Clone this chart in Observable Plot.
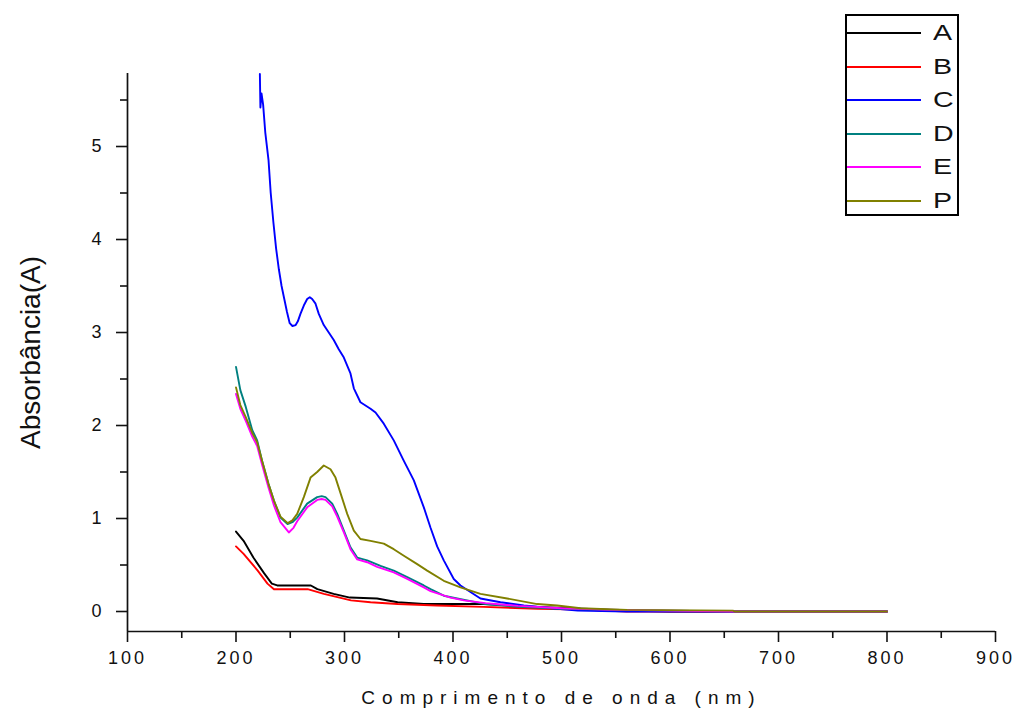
<!DOCTYPE html>
<html>
<head>
<meta charset="utf-8">
<script src="https://cdn.jsdelivr.net/npm/d3@7"></script>
<script src="https://cdn.jsdelivr.net/npm/@observablehq/plot@0.6"></script>
<style>
  html, body { margin: 0; padding: 0; background: #fff; }
  #wrap { position: relative; width: 1017px; height: 715px; }
  #legend { position: absolute; left: 845px; top: 14px; width: 110px; height: 198px; border: 2px solid #000; background: #fff; font-family: "Liberation Sans", Arial, sans-serif; }
  .row { position: absolute; left: 0; height: 30px; width: 110px; }
  .swatch { position: absolute; left: 0; top: 14px; width: 74px; height: 2px; }
  .lab { position: absolute; left: 86px; top: 2px; font-size: 22px; line-height: 26px; color: #111; transform: scaleX(1.3); transform-origin: left center; }
</style>
</head>
<body>
<div id="wrap"></div>
<script>
// ---- data ----
const seriesNames = ["A", "B", "C", "D", "E", "P"];
const seriesColors = ["#000000", "#ff0000", "#0000ff", "#008080", "#ff00ff", "#808000"];

const aWavelength = [200, 207, 216, 226, 233, 238, 250, 269, 275, 290, 305, 330, 349, 373, 428, 478, 520, 560, 600, 700, 800];
const aAbsorbance = [0.86, 0.76, 0.58, 0.41, 0.30, 0.28, 0.28, 0.28, 0.24, 0.19, 0.15, 0.14, 0.10, 0.08, 0.08, 0.05, 0.03, 0.01, 0.0, 0.0, 0.0];

const bWavelength = [200, 207, 220, 229, 235, 250, 266, 281, 306, 324, 349, 385, 428, 478, 520, 560, 600, 700, 800];
const bAbsorbance = [0.70, 0.62, 0.44, 0.30, 0.24, 0.24, 0.24, 0.19, 0.12, 0.10, 0.08, 0.065, 0.05, 0.03, 0.02, 0.0, 0.0, 0.0, 0.0];

const cWavelength = [222, 222.5, 223.5, 225, 227, 230, 232, 234.5, 237, 239.5, 242, 244.5, 247, 249.5, 252, 255, 257, 259.4, 262.5, 265.6, 268, 270.2, 273.3, 276.3, 280.9, 285.5, 290.1, 294.7, 299.4, 305.5, 308.6, 314.7, 324, 328.6, 336.2, 345.4, 354.7, 363.9, 373.1, 379.3, 385.4, 391.5, 400.7, 406.9, 416.1, 425.3, 443.8, 465.3, 496, 515, 560, 620, 700, 800];
const cAbsorbance = [5.78, 5.42, 5.57, 5.45, 5.15, 4.85, 4.50, 4.18, 3.90, 3.68, 3.50, 3.36, 3.22, 3.10, 3.07, 3.08, 3.12, 3.20, 3.29, 3.36, 3.38, 3.36, 3.31, 3.20, 3.08, 3.00, 2.92, 2.82, 2.73, 2.56, 2.40, 2.25, 2.18, 2.14, 2.02, 1.84, 1.62, 1.41, 1.12, 0.90, 0.70, 0.55, 0.35, 0.28, 0.21, 0.14, 0.10, 0.065, 0.03, 0.01, 0.0, 0.0, 0.0, 0.0];

const dWavelength = [200, 204, 209, 215, 219.5, 224, 230, 235, 241, 247.5, 252, 256.4, 265.6, 274.8, 279, 282.5, 288.7, 293.3, 299.4, 305.5, 311.7, 320.9, 333.2, 345.4, 357.8, 373.1, 379.3, 391.5, 403.9, 430, 460, 500, 540, 600, 660, 700, 800];
const dAbsorbance = [2.63, 2.38, 2.20, 1.95, 1.84, 1.62, 1.37, 1.19, 1.01, 0.94, 0.96, 1.01, 1.16, 1.23, 1.24, 1.23, 1.16, 1.05, 0.87, 0.69, 0.58, 0.55, 0.49, 0.44, 0.37, 0.28, 0.24, 0.17, 0.14, 0.08, 0.05, 0.03, 0.02, 0.01, 0.0, 0.0, 0.0];

const eWavelength = [200, 204, 209, 215, 219.5, 224, 230, 235, 241, 248.7, 253, 256.4, 265.6, 274.8, 279, 282.5, 288.7, 293.3, 299.4, 305.5, 311.7, 320.9, 330.1, 345.4, 357.8, 373.1, 379.3, 397.7, 410, 430, 460, 500, 540, 600, 660, 700, 800];
const eAbsorbance = [2.34, 2.18, 2.05, 1.88, 1.78, 1.58, 1.33, 1.14, 0.96, 0.85, 0.90, 0.97, 1.12, 1.20, 1.21, 1.20, 1.13, 1.02, 0.85, 0.67, 0.56, 0.53, 0.48, 0.42, 0.35, 0.26, 0.22, 0.15, 0.12, 0.09, 0.06, 0.035, 0.02, 0.01, 0.0, 0.0, 0.0];

const pWavelength = [200, 204, 209, 215, 219.5, 224, 230, 235, 241, 247.7, 252, 256.4, 262.5, 268.7, 274.8, 280.9, 287.1, 291.7, 296.4, 302.5, 308.6, 314.7, 324, 336.2, 345.4, 354.7, 367, 376.2, 391.5, 406.9, 425.3, 449.9, 477.6, 496, 517.5, 560.6, 658, 660, 800];
const pAbsorbance = [2.41, 2.22, 2.09, 1.92, 1.82, 1.62, 1.37, 1.19, 1.02, 0.95, 0.98, 1.05, 1.23, 1.44, 1.50, 1.57, 1.53, 1.44, 1.27, 1.05, 0.87, 0.78, 0.76, 0.73, 0.67, 0.60, 0.51, 0.44, 0.33, 0.26, 0.19, 0.14, 0.08, 0.065, 0.035, 0.018, 0.01, 0.0, 0.0];

const xMajorTicks = [100, 200, 300, 400, 500, 600, 700, 800, 900];
const xMinorTicks = [150, 250, 350, 450, 550, 650, 750, 850];
const yMajorTicks = [0, 1, 2, 3, 4, 5];
const yMinorTicks = [0.5, 1.5, 2.5, 3.5, 4.5, 5.5];
const xDomain = [100, 900];
const yDomain = [-0.215, 5.785];
const xTitle = "Comprimento de onda (nm)";
const yTitle = "Absorbância(A)";

// ---- build table ----
const seriesData = [
  [aWavelength, aAbsorbance], [bWavelength, bAbsorbance], [cWavelength, cAbsorbance],
  [dWavelength, dAbsorbance], [eWavelength, eAbsorbance], [pWavelength, pAbsorbance]
];
const rows = [];
seriesNames.forEach((name, i) => {
  const [wl, ab] = seriesData[i];
  wl.forEach((w, j) => rows.push({series: name, wl: w, abs: ab[j]}));
});

const plot = Plot.plot({
  width: 1017,
  height: 715,
  marginLeft: 127,
  marginRight: 22,
  marginTop: 73,
  marginBottom: 84,
  style: {fontFamily: "'Liberation Sans', Arial, sans-serif", fontSize: "18px", color: "#111", background: "#fff"},
  x: {domain: xDomain},
  y: {domain: yDomain},
  color: {domain: seriesNames, range: seriesColors},
  marks: [
    Plot.line(rows, {x: "wl", y: "abs", z: "series", stroke: "series", strokeWidth: 1.9}),
    Plot.ruleX([xDomain[0]], {stroke: "#111", strokeWidth: 1.7}),
    Plot.ruleY([yDomain[0]], {stroke: "#111", strokeWidth: 1.7}),
    Plot.axisX({ticks: xMajorTicks, tickSize: 11, tickPadding: 9, label: null, strokeWidth: 1.6, tickFormat: d => String(d)}),
    Plot.axisX({ticks: xMinorTicks, tickSize: 7, label: null, strokeWidth: 1.6, tickFormat: () => ""}),
    Plot.axisY({ticks: yMajorTicks, tickSize: 11, tickPadding: 12, label: null, strokeWidth: 1.6, tickFormat: d => String(d)}),
    Plot.axisY({ticks: yMinorTicks, tickSize: 7, label: null, strokeWidth: 1.6, tickFormat: () => ""}),
    Plot.text([yTitle], {frameAnchor: "left", textAnchor: "middle", rotate: -90, dx: -96, fontSize: 28, fill: "#111"}),
    Plot.text([xTitle], {frameAnchor: "bottom", textAnchor: "middle", dy: 72, fontSize: 19, fill: "#111"})
  ]
});

d3.select(plot).selectAll("text")
  .filter(function() { return this.textContent === xTitle; })
  .attr("letter-spacing", "7px");
d3.select(plot).selectAll("g[aria-label='x-axis tick label'] text, g[aria-label='y-axis tick label'] text")
  .attr("letter-spacing", "3px");

const wrap = document.getElementById("wrap");
wrap.appendChild(plot);

// ---- legend ----
const legend = document.createElement("div");
legend.id = "legend";
seriesNames.forEach((name, i) => {
  const row = document.createElement("div");
  row.className = "row";
  row.style.top = (2 + i * 33.6) + "px";
  const sw = document.createElement("div");
  sw.className = "swatch";
  sw.style.background = seriesColors[i];
  const lab = document.createElement("span");
  lab.className = "lab";
  lab.textContent = name;
  row.appendChild(sw);
  row.appendChild(lab);
  legend.appendChild(row);
});
wrap.appendChild(legend);
</script>
</body>
</html>
